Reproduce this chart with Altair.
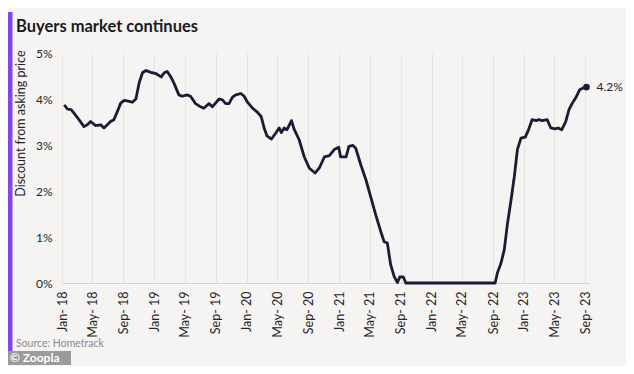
import altair as alt
import pandas as pd

# ---- data ----
dates = [
    "2018-01-10", "2018-01-23", "2018-02-06", "2018-02-19", "2018-03-09", "2018-03-29",
    "2018-04-11", "2018-04-24", "2018-05-14", "2018-06-03", "2018-06-16", "2018-06-29",
    "2018-07-12", "2018-07-25", "2018-08-08", "2018-08-21", "2018-09-04", "2018-09-24",
    "2018-10-06", "2018-10-20", "2018-11-02", "2018-11-15", "2018-11-29", "2018-12-18",
    "2019-01-08", "2019-01-28", "2019-02-09", "2019-02-21", "2019-03-06", "2019-03-19",
    "2019-04-08", "2019-04-21", "2019-05-10", "2019-05-24", "2019-06-13", "2019-07-03",
    "2019-07-15", "2019-08-05", "2019-08-18", "2019-09-14", "2019-09-27", "2019-10-10",
    "2019-10-23", "2019-11-06", "2019-11-19", "2019-12-09", "2019-12-22", "2020-01-04",
    "2020-01-24", "2020-02-13", "2020-02-27", "2020-03-10", "2020-03-21", "2020-04-08",
    "2020-04-25", "2020-05-08", "2020-05-17", "2020-05-28", "2020-06-08", "2020-06-26",
    "2020-07-06", "2020-07-26", "2020-08-15", "2020-09-04", "2020-09-27", "2020-10-14",
    "2020-11-03", "2020-11-23", "2020-12-12", "2020-12-30", "2021-01-06", "2021-01-28",
    "2021-02-08", "2021-02-24", "2021-03-07", "2021-03-27", "2021-04-16", "2021-05-05",
    "2021-05-25", "2021-06-14", "2021-06-27", "2021-07-10", "2021-07-23", "2021-08-06",
    "2021-08-19", "2021-08-28", "2021-09-11", "2021-09-21", "2022-09-09", "2022-09-18",
    "2022-10-02", "2022-10-15", "2022-10-28", "2022-11-11", "2022-11-24", "2022-12-06",
    "2022-12-20", "2023-01-06", "2023-01-19", "2023-02-02", "2023-02-18", "2023-03-01",
    "2023-03-14", "2023-04-03", "2023-04-17", "2023-05-03", "2023-05-16", "2023-05-30",
    "2023-06-15", "2023-06-28", "2023-07-11", "2023-07-24", "2023-08-09", "2023-08-23",
    "2023-09-05",
]
values = [
    3.87, 3.78, 3.77, 3.68, 3.55, 3.40,
    3.44, 3.51, 3.42, 3.44, 3.37, 3.44,
    3.51, 3.55, 3.73, 3.91, 3.97, 3.95,
    3.93, 4.00, 4.35, 4.57, 4.62, 4.58,
    4.55, 4.48, 4.57, 4.60, 4.49, 4.35,
    4.09, 4.06, 4.09, 4.06, 3.90, 3.83,
    3.80, 3.90, 3.83, 4.00, 3.98, 3.90,
    3.90, 4.04, 4.09, 4.12, 4.06, 3.93,
    3.80, 3.71, 3.62, 3.37, 3.20, 3.13,
    3.26, 3.37, 3.27, 3.37, 3.33, 3.53,
    3.35, 3.12, 2.75, 2.50, 2.39, 2.50,
    2.74, 2.77, 2.90, 2.95, 2.74, 2.74,
    2.97, 2.99, 2.93, 2.57, 2.25, 1.88,
    1.48, 1.12, 0.90, 0.87, 0.40, 0.14,
    0.01, 0.13, 0.13, 0.00, 0.00, 0.22,
    0.43, 0.72, 1.30, 1.81, 2.32, 2.90,
    3.15, 3.17, 3.33, 3.55, 3.53, 3.55,
    3.53, 3.55, 3.37, 3.35, 3.37, 3.33,
    3.51, 3.77, 3.91, 4.02, 4.20, 4.24,
    4.26,
]
y_ticks = [0, 1, 2, 3, 4, 5]
tick_years = [2018, 2019, 2020, 2021, 2022, 2023]
tick_months = [1, 5, 9]
end_label = ["4.2%"]
title_text = ["Buyers market continues"]
y_title = "Discount from asking price"
source_text = ["Source: Hometrack"]
badge_text = ["\u00a9 Zoopla"]

# ---- styling ----
BG = "#f5f4f2"
LINE = "#1c1b33"
FONT = "Lato"
TXT = "#262626"

df = pd.DataFrame({"date": dates, "value": values})
last = df.tail(1).assign(label=end_label)

x_vals = [alt.DateTime(year=y, month=m, date=1, utc=True) for y in tick_years for m in tick_months]

x_enc = alt.X(
    "date:T",
    scale=alt.Scale(type="utc", domain=[alt.DateTime(year=2018, month=1, date=1, utc=True),
                                        alt.DateTime(year=2023, month=9, date=15, utc=True)]),
    axis=alt.Axis(values=x_vals, labelExpr="utcFormat(datum.value, '%b- %y')", labelAngle=270,
                  labelAlign="right", labelBaseline="middle", labelPadding=8, ticks=False,
                  labelOverlap=False, domainColor="#d6d4d0", grid=True, gridColor="#e7e5e1",
                  title=None, labelFont=FONT, labelFontSize=12.5, labelColor=TXT),
)
y_enc = alt.Y(
    "value:Q",
    scale=alt.Scale(domain=[0, 5]),
    axis=alt.Axis(values=y_ticks, labelExpr="datum.value + '%'", grid=False, domain=False,
                  ticks=False, labelPadding=10, labelFont=FONT, labelFontSize=12,
                  labelColor=TXT, title=y_title, titleX=-42, titleY=-3, titleAngle=270,
                  titleAlign="right", titleBaseline="middle", titleFont=FONT,
                  titleFontSize=12.5, titleFontWeight="normal", titleColor=TXT),
)

line = alt.Chart(df).mark_line(color=LINE, strokeWidth=2.8, strokeJoin="round").encode(x=x_enc, y=y_enc)
dot = alt.Chart(last).mark_circle(color=LINE, size=45, opacity=1).encode(x=x_enc, y=y_enc)
lab = alt.Chart(last).mark_text(align="left", baseline="middle", dx=10, font=FONT,
                                fontSize=12, color=TXT).encode(x=x_enc, y=y_enc, text="label:N")

title = alt.Chart(pd.DataFrame({"t": title_text})).mark_text(
    align="left", baseline="middle", font=FONT, fontSize=16.5, fontWeight="bold", color="#1a1a1a"
).encode(x=alt.value(-46), y=alt.value(-26), text="t:N")

bar = alt.Chart(pd.DataFrame({"a": [0]})).mark_rule(color="#8046f1", strokeWidth=5).encode(
    x=alt.value(-52), y=alt.value(-41), y2=alt.value(303))

source = alt.Chart(pd.DataFrame({"t": source_text})).mark_text(
    align="left", baseline="middle", font=FONT, fontSize=10.5, color="#8a8a8a"
).encode(x=alt.value(-46), y=alt.value(291), text="t:N")

badge = alt.Chart(pd.DataFrame({"a": [0]})).mark_rect(color="#9b9b9b").encode(
    x=alt.value(-54), x2=alt.value(9), y=alt.value(298), y2=alt.value(312))
badge_t = alt.Chart(pd.DataFrame({"t": badge_text})).mark_text(
    align="left", baseline="middle", font=FONT, fontSize=12, fontWeight="bold", color="white"
).encode(x=alt.value(-52), y=alt.value(305), text="t:N")

chart = alt.layer(line, dot, lab, title, bar, source, badge, badge_t).properties(
    width=527, height=230,
    autosize=alt.AutoSizeParams(type="none"),
    padding={"left": 54, "top": 45, "right": 37, "bottom": 83},
    background=BG,
).configure_view(strokeWidth=0)

chart.save("out.html", embed_options={"renderer": "svg", "actions": False})
